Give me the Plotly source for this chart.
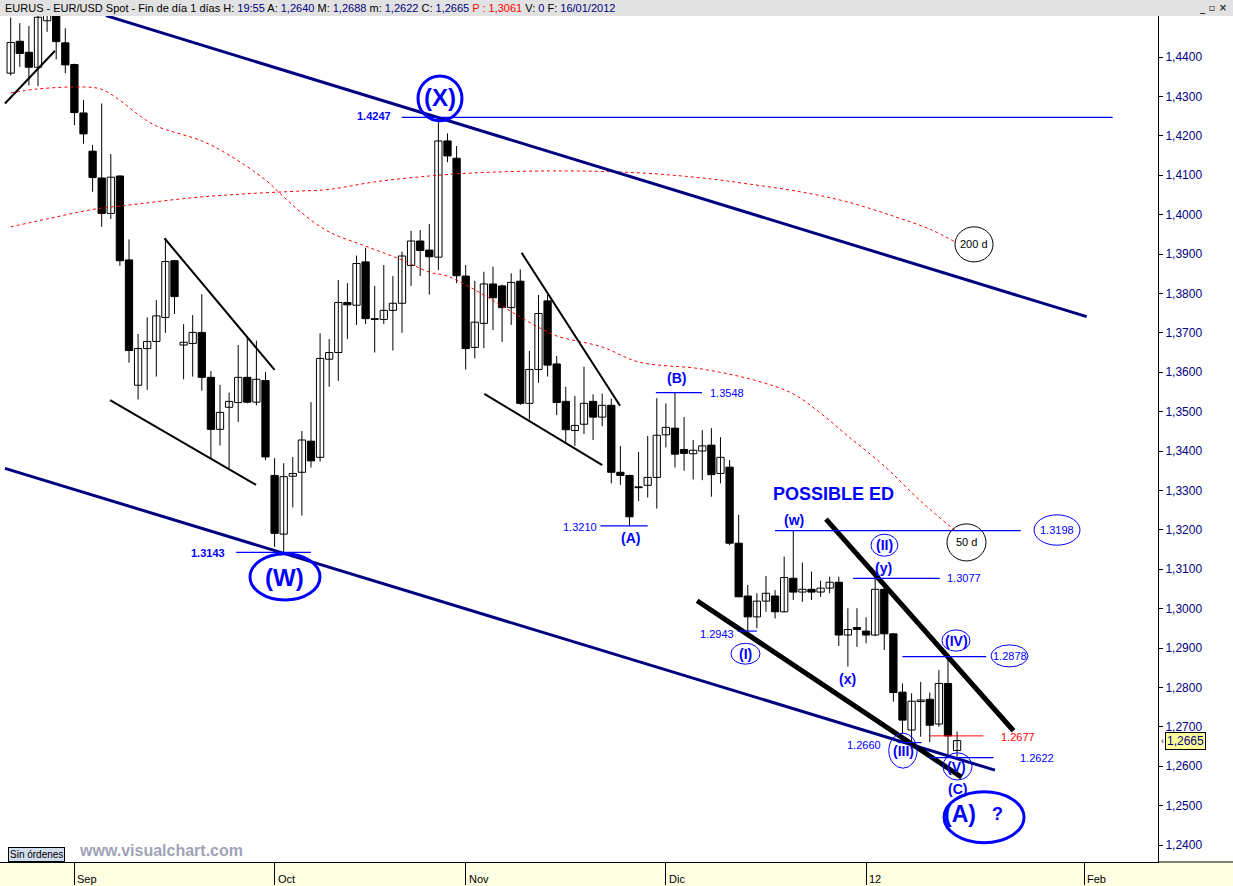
import plotly.graph_objects as go

# ---------------- data ----------------
opens = [1.4359, 1.4440, 1.4412, 1.4374, 1.4492, 1.4530, 1.4436, 1.4381, 1.4258, 1.4161,
         1.4093, 1.4003, 1.4098, 1.3885, 1.3567, 1.3660, 1.3678, 1.3739, 1.3883, 1.3669,
         1.3673, 1.3701, 1.3587, 1.3455, 1.3511, 1.3523, 1.3587, 1.3524, 1.3579, 1.3338,
         1.3189, 1.3336, 1.3346, 1.3425, 1.3384, 1.3633, 1.3650, 1.3777, 1.3770, 1.3880,
         1.3735, 1.3734, 1.3757, 1.3775, 1.3871, 1.3933, 1.3910, 1.3892, 1.4187, 1.4143,
         1.3844, 1.3663, 1.3724, 1.3824, 1.3819, 1.3764, 1.3831, 1.3521, 1.3607, 1.3781,
         1.3621, 1.3526, 1.3452, 1.3468, 1.3526, 1.3486, 1.3516, 1.3346, 1.3338, 1.3309,
         1.3313, 1.3333, 1.3441, 1.3458, 1.3404, 1.3393, 1.3400, 1.3415, 1.3343, 1.3359,
         1.3166, 1.3032, 1.2979, 1.3019, 1.3032, 1.2992, 1.3077, 1.3042, 1.3049, 1.3042,
         1.3052, 1.3067, 1.2933, 1.2952, 1.2943, 1.2933, 1.3049, 1.2936, 1.2788, 1.2692,
         1.2764, 1.2770, 1.2707, 1.2810, 1.2640]
highs = [1.4500, 1.4486, 1.4479, 1.4505, 1.4540, 1.4560, 1.4473, 1.4383, 1.4291, 1.4177,
         1.4282, 1.4154, 1.4100, 1.3937, 1.3697, 1.3739, 1.3783, 1.3940, 1.3885, 1.3722,
         1.3745, 1.3798, 1.3603, 1.3568, 1.3548, 1.3669, 1.3692, 1.3680, 1.3601, 1.3382,
         1.3369, 1.3385, 1.3451, 1.3524, 1.3699, 1.3684, 1.3834, 1.3826, 1.3896, 1.3916,
         1.3819, 1.3872, 1.3844, 1.3906, 1.3959, 1.3961, 1.3976, 1.4247, 1.4206, 1.4174,
         1.3872, 1.3832, 1.3855, 1.3868, 1.3822, 1.3851, 1.3861, 1.3654, 1.3796, 1.3796,
         1.3641, 1.3563, 1.3540, 1.3614, 1.3544, 1.3546, 1.3533, 1.3413, 1.3340, 1.3398,
         1.3438, 1.3534, 1.3521, 1.3548, 1.3486, 1.3428, 1.3453, 1.3458, 1.3435, 1.3377,
         1.3238, 1.3060, 1.3039, 1.3083, 1.3047, 1.3132, 1.3198, 1.3117, 1.3094, 1.3071,
         1.3081, 1.3081, 1.3001, 1.3001, 1.2978, 1.3077, 1.3064, 1.2938, 1.2810, 1.2785,
         1.2814, 1.2787, 1.2844, 1.2878, 1.2688]
lows = [1.4353, 1.4375, 1.4328, 1.4326, 1.4464, 1.4394, 1.4359, 1.4227, 1.4180, 1.4058,
        1.3969, 1.3989, 1.3870, 1.3624, 1.3531, 1.3555, 1.3589, 1.3700, 1.3748, 1.3582,
        1.3589, 1.3553, 1.3381, 1.3414, 1.3356, 1.3474, 1.3521, 1.3516, 1.3377, 1.3157,
        1.3143, 1.3257, 1.3236, 1.3358, 1.3373, 1.3563, 1.3578, 1.3684, 1.3720, 1.3722,
        1.3650, 1.3722, 1.3655, 1.3700, 1.3819, 1.3844, 1.3797, 1.3859, 1.4133, 1.3826,
        1.3607, 1.3635, 1.3661, 1.3707, 1.3677, 1.3720, 1.3517, 1.3480, 1.3573, 1.3589,
        1.3491, 1.3418, 1.3413, 1.3443, 1.3428, 1.3463, 1.3318, 1.3314, 1.3210, 1.3273,
        1.3282, 1.3254, 1.3409, 1.3358, 1.3350, 1.3328, 1.3326, 1.3284, 1.3318, 1.3161,
        1.3029, 1.2943, 1.2950, 1.2992, 1.2975, 1.2990, 1.3022, 1.3017, 1.3022, 1.3030,
        1.3039, 1.2905, 1.2853, 1.2903, 1.2912, 1.2930, 1.2895, 1.2764, 1.2683, 1.2660,
        1.2675, 1.2661, 1.2700, 1.2624, 1.2622]
closes = [1.4437, 1.4409, 1.4374, 1.4501, 1.4510, 1.4439, 1.4380, 1.4259, 1.4205, 1.4094,
          1.4003, 1.4095, 1.3883, 1.3655, 1.3660, 1.3678, 1.3743, 1.3881, 1.3792, 1.3676,
          1.3701, 1.3587, 1.3455, 1.3498, 1.3526, 1.3587, 1.3524, 1.3582, 1.3385, 1.3191,
          1.3335, 1.3343, 1.3428, 1.3375, 1.3635, 1.3650, 1.3777, 1.3771, 1.3876, 1.3736,
          1.3734, 1.3757, 1.3775, 1.3895, 1.3933, 1.3909, 1.3893, 1.4187, 1.4149, 1.3845,
          1.3660, 1.3727, 1.3824, 1.3789, 1.3764, 1.3828, 1.3521, 1.3607, 1.3749, 1.3618,
          1.3523, 1.3454, 1.3465, 1.3521, 1.3486, 1.3516, 1.3346, 1.3338, 1.3233, 1.3307,
          1.3333, 1.3440, 1.3460, 1.3392, 1.3394, 1.3402, 1.3413, 1.3340, 1.3384, 1.3166,
          1.3030, 1.2979, 1.3019, 1.3039, 1.2992, 1.3079, 1.3042, 1.3049, 1.3042, 1.3052,
          1.3067, 1.2933, 1.2947, 1.2947, 1.2933, 1.3049, 1.2936, 1.2787, 1.2717, 1.2765,
          1.2768, 1.2704, 1.2810, 1.2677, 1.2665]
bars = list(range(1, len(opens) + 1))

month_labels = ["Sep", "Oct", "Nov", "Dic", "12", "Feb"]
month_bars = [8, 30, 51, 73, 95, 119]
price_ticks = [1.24, 1.25, 1.26, 1.27, 1.28, 1.29, 1.30, 1.31, 1.32, 1.33, 1.34,
               1.35, 1.36, 1.37, 1.38, 1.39, 1.40, 1.41, 1.42, 1.43, 1.44]

ma50_bars = [1, 4, 9, 11, 13, 15, 17, 22, 25, 29, 31, 33, 36, 40, 44, 47, 49, 53, 55, 57,
             59, 61, 66, 70, 77, 83, 87, 90, 93, 97, 101, 105]
ma50_vals = [1.4309, 1.4319, 1.4324, 1.4318, 1.4290, 1.4254, 1.4225, 1.4187, 1.4151, 1.4088,
             1.4045, 1.4004, 1.3956, 1.3920, 1.3885, 1.3854, 1.3844, 1.3796, 1.3768, 1.3740,
             1.3714, 1.3692, 1.3664, 1.3626, 1.3608, 1.3578, 1.3545, 1.3496, 1.3438, 1.3362,
             1.3273, 1.3194]
ma200_bars = [1, 5, 10, 15, 21, 27, 33, 36, 41, 47, 52, 61, 70, 77, 82, 88, 93, 98, 102, 105]
ma200_vals = [1.3969, 1.3989, 1.4013, 1.4027, 1.4043, 1.4053, 1.4060, 1.4064, 1.4083, 1.4098,
              1.4106, 1.4111, 1.4106, 1.4093, 1.4078, 1.4057, 1.4032, 1.3996, 1.3963, 1.3928]

# trend lines drawn by the analyst: (bar, price) -> (bar, price)
channel_lines = [((11.47, 1.4505), (119.24, 1.3741)), ((0.37, 1.3356), (109.16, 1.2590))]
thin_black_lines = [((0.37, 1.4282), (5.87, 1.4416)), ((17.9, 1.3940), (30.0, 1.3606)),
                    ((11.92, 1.3529), (27.96, 1.3314)), ((57.15, 1.3903), (67.96, 1.3515)),
                    ((53.05, 1.3545), (66.01, 1.3364))]
wedge_lines = [((90.59, 1.3227), (111.2, 1.2690)), ((76.43, 1.3020), (105.5, 1.2572))]

level_prices = [1.4247, 1.3143, 1.3210, 1.3548, 1.3198, 1.3077, 1.2943, 1.2660, 1.2878, 1.2622]
level_from = [43.97, 25.78, 65.8, 71.9, 84.99, 93.56, 80.9, 98.5, 99.0, 101.9]
level_to = [122.1, 34.0, 71.0, 76.97, 112.0, 103.1, 83.0, 101.1, 108.2, 109.0]
red_level = (1.2677, 102.0, 107.9)

# ---------------- figure ----------------
BLUE = "#0000ff"
NAVY = "#000080"
FONT = "Liberation Sans, Arial, sans-serif"

fig = go.Figure()

# wicks
wx, wy = [], []
for b, h, l in zip(bars, highs, lows):
    wx += [b, b, None]
    wy += [l, h, None]
fig.add_trace(go.Scatter(x=wx, y=wy, mode="lines", line=dict(color="black", width=1),
                         hoverinfo="skip"))

# bodies
body_base = [min(o, c) for o, c in zip(opens, closes)]
body_h = [max(abs(c - o), 0.00018) for o, c in zip(opens, closes)]
body_col = ["white" if c >= o else "black" for o, c in zip(opens, closes)]
fig.add_trace(go.Bar(x=bars, y=body_h, base=body_base, width=0.8,
                     marker=dict(color=body_col, line=dict(color="black", width=1))))

# moving averages
fig.add_trace(go.Scatter(x=ma50_bars, y=ma50_vals, mode="lines",
                         line=dict(color="#ff0000", width=1, dash="3px,3px", shape="spline")))
fig.add_trace(go.Scatter(x=ma200_bars, y=ma200_vals, mode="lines",
                         line=dict(color="#ff0000", width=1, dash="3px,3px", shape="spline")))

def add_segments(lines, color, width):
    xs, ys = [], []
    for (x0, y0), (x1, y1) in lines:
        xs += [x0, x1, None]
        ys += [y0, y1, None]
    fig.add_trace(go.Scatter(x=xs, y=ys, mode="lines", line=dict(color=color, width=width),
                             hoverinfo="skip"))

add_segments(channel_lines, NAVY, 3)
add_segments(thin_black_lines, "black", 2)
add_segments(wedge_lines, "black", 5)
add_segments([((f, p), (t, p)) for p, f, t in zip(level_prices, level_from, level_to)], BLUE, 1.2)
add_segments([((red_level[1], red_level[0]), (red_level[2], red_level[0]))], "#ff0000", 1)

# ellipses
ellipses = [
    (45.76, 50.59, 1.4238, 1.4352, BLUE, 3),   # (X)
    (27.30, 34.99, 1.3022, 1.3139, BLUE, 3),   # (W)
    (103.57, 112.36, 1.2406, 1.2535, BLUE, 3), # (A) ?
    (95.54, 98.49, 1.3133, 1.3189, BLUE, 1),   # (II)
    (80.15, 83.34, 1.2859, 1.2912, BLUE, 1),   # (I)
    (103.34, 106.42, 1.2892, 1.2946, BLUE, 1), # (IV)
    (97.50, 100.60, 1.2595, 1.2684, BLUE, 1),  # (III)
    (103.45, 106.64, 1.2565, 1.2634, BLUE, 1), # (V)
    (113.46, 118.51, 1.3161, 1.3238, BLUE, 1), # 1.3198
    (108.73, 112.79, 1.2852, 1.2908, BLUE, 1), # 1.2878
    (103.89, 108.18, 1.3121, 1.3215, "black", 1),  # 50 d
    (104.77, 108.95, 1.3880, 1.3969, "black", 1),  # 200 d
]
for x0, x1, y0, y1, col, w in ellipses:
    fig.add_shape(type="circle", xref="x", yref="y", x0=x0, x1=x1, y0=y0, y1=y1,
                  line=dict(color=col, width=w), layer="above")

# text labels: (text, bar, price, size, bold, color)
labels = [
    ("(X)", 48.18, 1.4296, 24, True, BLUE),
    ("(W)", 31.14, 1.3080, 24, True, BLUE),
    ("(A)", 105.32, 1.2479, 23, True, BLUE),
    ("?", 109.39, 1.2479, 18, True, BLUE),
    ("(B)", 74.2, 1.3585, 14, True, BLUE),
    ("(A)", 69.06, 1.3179, 14, True, BLUE),
    ("(w)", 87.08, 1.3225, 14, True, BLUE),
    ("POSSIBLE ED", 91.37, 1.3291, 18, True, BLUE),
    ("(II)", 97.0, 1.3161, 14, True, BLUE),
    ("(y)", 96.86, 1.3103, 14, True, BLUE),
    ("(x)", 93.01, 1.2821, 14, True, BLUE),
    ("(I)", 81.7, 1.2885, 14, True, BLUE),
    ("(IV)", 104.9, 1.2918, 14, True, BLUE),
    ("(III)", 99.06, 1.2638, 14, True, BLUE),
    ("(V)", 104.99, 1.2599, 14, True, BLUE),
    ("(C)", 105.1, 1.2542, 14, True, BLUE),
    ("1.4247", 40.96, 1.4250, 11, True, BLUE),
    ("1.3143", 22.70, 1.3141, 11, True, BLUE),
    ("1.3210", 63.58, 1.3207, 11, False, BLUE),
    ("1.3548", 79.71, 1.3547, 11, False, BLUE),
    ("1.3198", 115.98, 1.3200, 11, False, BLUE),
    ("1.3077", 105.76, 1.3078, 11, False, BLUE),
    ("1.2943", 78.6, 1.2936, 11, False, BLUE),
    ("1.2660", 94.77, 1.2654, 11, False, BLUE),
    ("1.2878", 110.81, 1.2880, 11, False, BLUE),
    ("1.2677", 111.7, 1.2674, 11, False, "#ff0000"),
    ("1.2622", 113.8, 1.2621, 11, False, BLUE),
    ("50 d", 106.0, 1.3169, 11, False, "black"),
    ("200 d", 106.9, 1.3925, 11, False, "black"),
]
for t, xb, yp, sz, bold, col in labels:
    fig.add_annotation(x=xb, y=yp, xref="x", yref="y", showarrow=False,
                       text=f"<b>{t}</b>" if bold else t,
                       font=dict(family=FONT, size=sz, color=col))

# month labels to the right of their tick marks
for lab, mb in zip(month_labels, month_bars):
    fig.add_annotation(x=mb, y=-17 / 846, xref="x", yref="paper", xanchor="left", xshift=1,
                       yanchor="middle", showarrow=False, text=lab,
                       font=dict(family=FONT, size=11, color="black"))

# chrome: header bar, bottom strip
W_PAPER = 1233 / 1158
fig.add_shape(type="rect", xref="paper", yref="paper", x0=0, x1=W_PAPER, y0=1, y1=1 + 16 / 846,
              fillcolor="#e2e2e2", line=dict(width=0), layer="below")
fig.add_shape(type="rect", xref="paper", yref="paper", x0=0, x1=W_PAPER, y0=-24 / 846, y1=0,
              fillcolor="#ffffe1", line=dict(width=0), layer="below")
fig.add_shape(type="line", xref="paper", yref="paper", x0=1, x1=W_PAPER, y0=0, y1=0,
              line=dict(color="black", width=1))

hdr = ("EURUS - EUR/USD Spot - Fin de día 1 días H: <span style='color:#000080'>19:55</span>"
       " A: <span style='color:#000080'>1,2640</span>"
       " M: <span style='color:#000080'>1,2688</span>"
       " m: <span style='color:#000080'>1,2622</span>"
       " C: <span style='color:#000080'>1,2665</span>"
       " <span style='color:#ff0000'>P : 1,3061</span>"
       " V: <span style='color:#000080'>0</span>"
       " F: <span style='color:#000080'>16/01/2012</span>")
fig.add_annotation(xref="paper", yref="paper", x=3 / 1158, y=1 + 8 / 846, xanchor="left",
                   yanchor="middle", showarrow=False, text=hdr,
                   font=dict(family=FONT, size=11, color="black"))
fig.add_annotation(xref="paper", yref="paper", x=1229 / 1158, y=1 + 8 / 846, xanchor="right",
                   yanchor="middle", showarrow=False, text="<b>_ ▫ ×</b>",
                   font=dict(family="DejaVu Sans", size=10, color="#333333"))

fig.add_annotation(xref="paper", yref="paper", x=8 / 1158, y=0.5 / 846, xanchor="left",
                   yanchor="bottom", showarrow=False, text="Sin órdenes",
                   font=dict(family=FONT, size=10, color="black"), bgcolor="#d2dcec",
                   bordercolor="black", borderwidth=1, borderpad=1)
fig.add_annotation(xref="paper", yref="paper", x=77 / 1158, y=1 / 846, xanchor="left",
                   yanchor="bottom", showarrow=False, text="<b>www.visualchart.com</b>",
                   font=dict(family=FONT, size=16, color="#a0a3b8"))

# last price marker
fig.add_annotation(xref="paper", yref="y", x=1, y=closes[-1], xanchor="left", xshift=1,
                   showarrow=False, text="‹", font=dict(family=FONT, size=9, color="black"))
fig.add_annotation(xref="paper", yref="y", x=1, y=closes[-1], xanchor="left", xshift=7,
                   showarrow=False, text="1,2665", font=dict(family=FONT, size=12, color=NAVY),
                   bgcolor="#ffff99", bordercolor="black", borderwidth=1, borderpad=1)

fig.update_layout(
    width=1233, height=886, margin=dict(l=0, r=75, t=16, b=24),
    paper_bgcolor="white", plot_bgcolor="white", showlegend=False,
    separators=",.", font=dict(family=FONT, size=11), barmode="overlay",
)
fig.update_xaxes(range=[-0.176, 127.08], tickvals=month_bars, showticklabels=False,
                 ticks="outside", ticklen=22, tickcolor="black", showline=True,
                 linecolor="black", linewidth=1, showgrid=False, zeroline=False)
fig.update_yaxes(range=[1.23569, 1.45041], side="right", tickvals=price_ticks,
                 tickformat=".4f", ticks="outside", ticklen=4, tickcolor="black",
                 showline=True, linecolor="black", linewidth=1, showgrid=False,
                 zeroline=False, tickfont=dict(family=FONT, size=12, color=NAVY))

fig.write_html("out.html", config={"displayModeBar": False},
               post_script="document.body.style.margin='0px';document.body.style.overflow='hidden';")
